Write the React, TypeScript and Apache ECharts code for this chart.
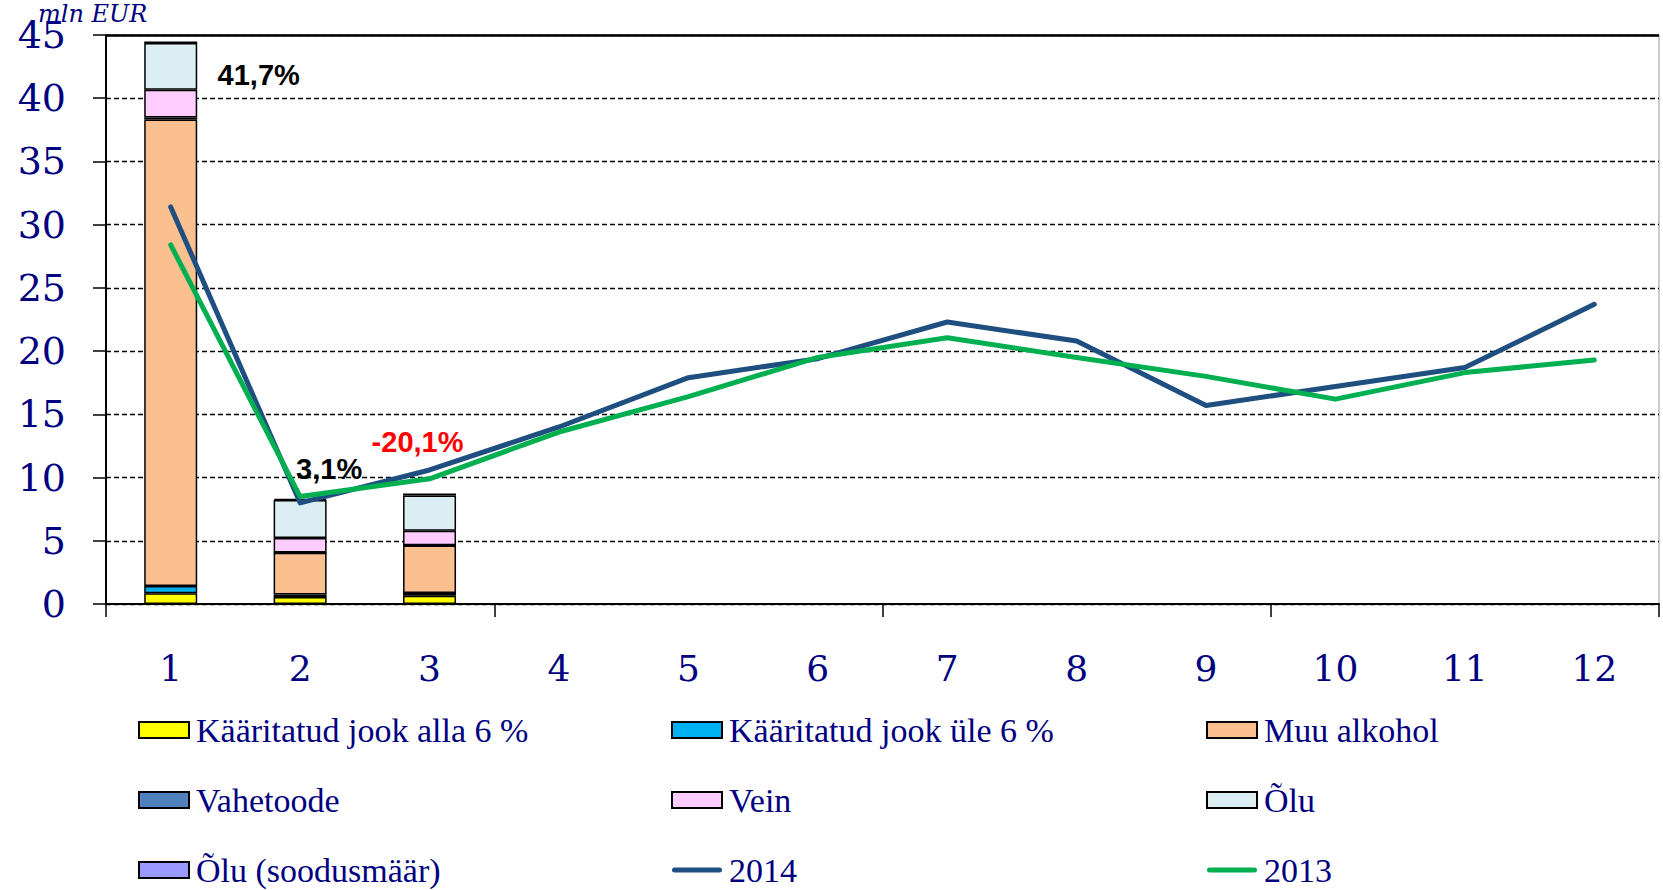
import React, { useEffect, useRef } from "react";
import * as echarts from "echarts";

const months = ["1", "2", "3", "4", "5", "6", "7", "8", "9", "10", "11", "12"];

const kaaritatudAlla6 = [0.85, 0.55, 0.65];
const kaaritatudYle6 = [0.57, 0.2, 0.22];
const muuAlkohol = [36.9, 3.3, 3.75];
const vahetoode = [0.15, 0.02, 0.02];
const vein = [2.2, 1.15, 1.15];
const olu = [3.7, 3.0, 2.8];
const oluSoodus = [0.12, 0.1, 0.15];

const y2014 = [31.4, 8.0, 10.6, 14.0, 17.9, 19.4, 22.3, 20.8, 15.7, 17.2, 18.7, 23.7];
const y2013 = [28.4, 8.5, 9.9, 13.6, 16.4, 19.5, 21.05, 19.5, 18.0, 16.2, 18.3, 19.3];

const annotationTexts = ["41,7%", "3,1%", "-20,1%"];
const annotationCats = [0, 1, 2];
const annotationY = [41.8, 10.7, 12.8];
const annotationColors = ["#000000", "#000000", "#FF0000"];
const annotationDx = [88, 29, -12];

const yTicks = { min: 0, max: 45, interval: 5 };

const NAVY = "#000080";
const LINE_ICON = "path://M2.5,0 L47.5,0 A2.5,2.5 0 0 1 47.5,5 L2.5,5 A2.5,2.5 0 0 1 2.5,0 Z";

export default function App() {
  const ref = useRef<HTMLDivElement>(null);
  useEffect(() => {
    document.body.style.margin = "0";
    const chart = echarts.init(ref.current!, null, { renderer: "svg" });
    const barBase = (name: string, color: string, data: number[]) => ({
      name,
      type: "bar",
      stack: "total",
      barWidth: 53,
      data,
      itemStyle: { color, borderColor: "#000", borderWidth: 1.5 },
      z: 2,
    });
    const lineBase = (name: string, color: string, data: number[]) => ({
      name,
      type: "line",
      data,
      symbol: "none",
      lineStyle: { color, width: 5, cap: "round", join: "round" },
      itemStyle: { color },
      z: 5,
    });
    const legendCommon = {
      orient: "vertical",
      top: 713,
      height: 177,
      padding: 0,
      itemWidth: 50,
      itemHeight: 16,
      itemGap: 36,
      textStyle: {
        color: NAVY,
        fontFamily: "Liberation Serif",
        fontSize: 34,
        lineHeight: 34,
        padding: [0, 0, 0, 2],
      },
    };
    const option: any = {
      animation: false,
      backgroundColor: "#fff",
      grid: {
        left: 106,
        right: 4,
        top: 35,
        bottom: 286,
        show: true,
        borderColor: "#999",
        borderWidth: 1,
      },
      legend: [
        {
          ...legendCommon,
          left: 138,
          data: [
            { name: "Kääritatud jook alla 6 %", icon: "rect" },
            { name: "Vahetoode", icon: "rect" },
            { name: "Õlu (soodusmäär)", icon: "rect" },
          ],
        },
        {
          ...legendCommon,
          left: 671,
          data: [
            { name: "Kääritatud jook üle 6 %", icon: "rect" },
            { name: "Vein", icon: "rect" },
            { name: "2014", icon: LINE_ICON },
          ],
        },
        {
          ...legendCommon,
          left: 1206,
          data: [
            { name: "Muu alkohol", icon: "rect" },
            { name: "Õlu", icon: "rect" },
            { name: "2013", icon: LINE_ICON },
          ],
        },
      ],
      xAxis: {
        type: "category",
        data: months,
        boundaryGap: true,
        axisLine: { show: true, lineStyle: { color: "#000", width: 2 } },
        axisTick: {
          show: true,
          interval: (i: number) => i % 3 === 0,
          length: 13,
          lineStyle: { color: "#000", width: 1.5 },
        },
        axisLabel: {
          color: NAVY,
          fontFamily: "DejaVu Serif",
          fontSize: 36,
          margin: 46,
          interval: 0,
        },
      },
      yAxis: {
        type: "value",
        min: yTicks.min,
        max: yTicks.max,
        interval: yTicks.interval,
        axisLine: { show: true, lineStyle: { color: "#000", width: 2 } },
        axisTick: { show: true, length: 13, lineStyle: { color: "#000", width: 1.5 } },
        splitLine: {
          show: true,
          lineStyle: { color: "#000", width: 1.3, type: [5, 3] },
        },
        axisLabel: {
          color: NAVY,
          fontFamily: "DejaVu Serif",
          fontSize: 38,
          margin: 40,
        },
      },
      graphic: [
        {
          type: "text",
          left: 38,
          top: 2,
          z: 100,
          style: {
            text: "mln EUR",
            fill: NAVY,
            font: "italic 24px 'DejaVu Serif'",
          },
        },
      ],
      series: [
        barBase("Kääritatud jook alla 6 %", "#FFFF00", kaaritatudAlla6),
        barBase("Kääritatud jook üle 6 %", "#00B0F0", kaaritatudYle6),
        barBase("Muu alkohol", "#FAC090", muuAlkohol),
        barBase("Vahetoode", "#4F81BD", vahetoode),
        barBase("Vein", "#FFCCFF", vein),
        barBase("Õlu", "#DBEEF3", olu),
        barBase("Õlu (soodusmäär)", "#9999FF", oluSoodus),
        {
          ...lineBase("2014", "#1F4E80", y2014),
          markLine: {
            silent: true,
            symbol: "none",
            label: { show: false },
            lineStyle: { color: "#000", width: 2.5, type: "solid" },
            data: [{ yAxis: yTicks.max }],
          },
        },
        lineBase("2013", "#00B050", y2013),
        {
          name: "annotations",
          type: "scatter",
          symbolSize: 0,
          z: 10,
          itemStyle: { opacity: 1 },
          data: annotationTexts.map((t, i) => ({
            value: [annotationCats[i], annotationY[i]],
            label: {
              show: true,
              position: "inside",
              formatter: t,
              offset: [annotationDx[i], 0],
              color: annotationColors[i],
              opacity: 1,
              textBorderWidth: 0,
              fontFamily: "Liberation Sans",
              fontWeight: "bold",
              fontSize: 29,
            },
          })),
        },
      ],
    };
    chart.setOption(option);
    return () => chart.dispose();
  }, []);
  return <div ref={ref} style={{ width: 1663, height: 890 }} />;
}
